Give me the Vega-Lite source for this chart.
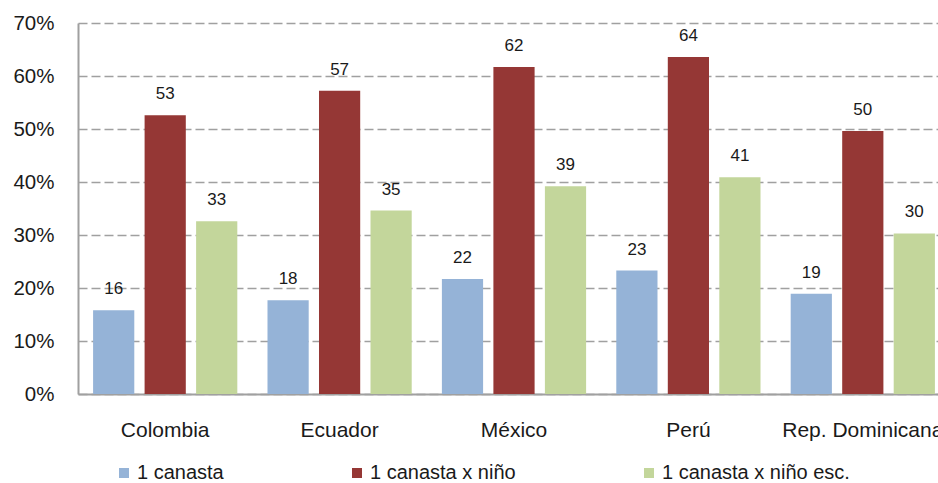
{
  "$schema": "https://vega.github.io/schema/vega-lite/v6.json",
  "width": 872,
  "height": 371,
  "autosize": {"type": "none"},
  "padding": {"left": 78, "top": 23, "right": 0, "bottom": 89},
  "config": {"view": {"stroke": null}, "font": "Liberation Sans"},
  "data": {
    "values": [
      {"pais": "Colombia", "serie": "1 canasta", "valor": 15.8},
      {"pais": "Colombia", "serie": "1 canasta x niño", "valor": 52.6},
      {"pais": "Colombia", "serie": "1 canasta x niño esc.", "valor": 32.6},
      {"pais": "Ecuador", "serie": "1 canasta", "valor": 17.7},
      {"pais": "Ecuador", "serie": "1 canasta x niño", "valor": 57.2},
      {"pais": "Ecuador", "serie": "1 canasta x niño esc.", "valor": 34.6},
      {"pais": "México", "serie": "1 canasta", "valor": 21.7},
      {"pais": "México", "serie": "1 canasta x niño", "valor": 61.7},
      {"pais": "México", "serie": "1 canasta x niño esc.", "valor": 39.2},
      {"pais": "Perú", "serie": "1 canasta", "valor": 23.3},
      {"pais": "Perú", "serie": "1 canasta x niño", "valor": 63.6},
      {"pais": "Perú", "serie": "1 canasta x niño esc.", "valor": 40.9},
      {"pais": "Rep. Dominicana", "serie": "1 canasta", "valor": 18.9},
      {"pais": "Rep. Dominicana", "serie": "1 canasta x niño", "valor": 49.6},
      {"pais": "Rep. Dominicana", "serie": "1 canasta x niño esc.", "valor": 30.3}
    ]
  },
  "encoding": {
    "x": {
      "field": "pais",
      "type": "nominal",
      "sort": ["Colombia", "Ecuador", "México", "Perú", "Rep. Dominicana"],
      "scale": {"paddingInner": 0.114, "paddingOuter": 0.057},
      "axis": {
        "title": null,
        "labelAngle": 0,
        "ticks": false,
        "labelPadding": 25,
        "labelFontSize": 21,
        "labelColor": "#1a1a1a",
        "labelLimit": 400,
        "labelOverlap": false,
        "domainColor": "#a0a0a0",
        "domainWidth": 2
      }
    },
    "xOffset": {
      "field": "serie",
      "type": "nominal",
      "sort": ["1 canasta", "1 canasta x niño", "1 canasta x niño esc."],
      "scale": {"paddingInner": 0.2, "paddingOuter": 0.1}
    },
    "y": {
      "field": "valor",
      "type": "quantitative",
      "scale": {"domain": [0, 70]},
      "axis": {
        "title": null,
        "values": [0, 10, 20, 30, 40, 50, 60, 70],
        "labelExpr": "datum.value + '%'",
        "ticks": false,
        "labelPadding": 24,
        "labelFontSize": 20.5,
        "labelColor": "#1a1a1a",
        "domainColor": "#a0a0a0",
        "domainWidth": 2,
        "gridColor": "#a0a0a0",
        "gridDash": [9, 4],
        "gridWidth": 1.5
      }
    }
  },
  "layer": [
    {
      "mark": {"type": "bar"},
      "encoding": {
        "color": {
          "field": "serie",
          "type": "nominal",
          "sort": ["1 canasta", "1 canasta x niño", "1 canasta x niño esc."],
          "scale": {"range": ["#95B3D7", "#953735", "#C3D69B"]},
          "legend": {
            "title": null,
            "orient": "none",
            "direction": "horizontal",
            "legendX": 36,
            "legendY": 440,
            "columnPadding": 123,
            "symbolType": "square",
            "symbolSize": 100,
            "symbolStrokeWidth": 0,
            "labelOffset": 3,
            "labelFontSize": 20,
            "labelColor": "#1a1a1a",
            "labelLimit": 400,
            "padding": 0
          }
        }
      }
    },
    {
      "mark": {"type": "text", "dy": -16, "baseline": "alphabetic", "fontSize": 17, "color": "#1a1a1a"},
      "encoding": {
        "text": {"field": "valor", "type": "quantitative", "format": ".0f"}
      }
    }
  ]
}
